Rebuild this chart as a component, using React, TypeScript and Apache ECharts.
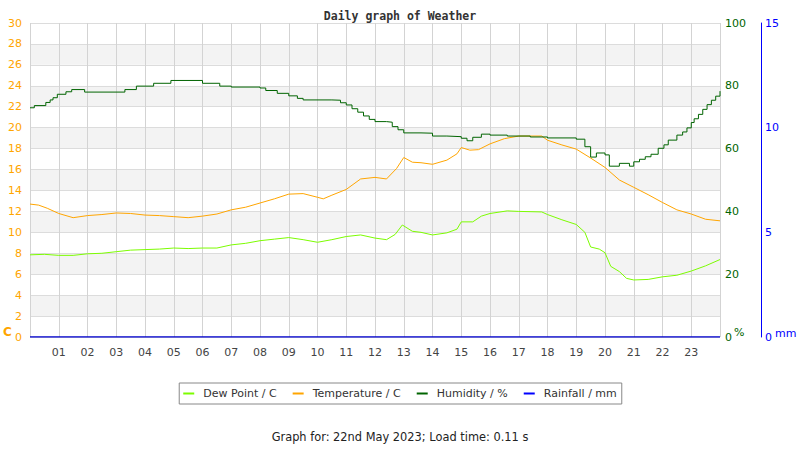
import React, { useEffect, useRef } from "react";
import * as echarts from "echarts";

const hourTicks = ["01","02","03","04","05","06","07","08","09","10","11","12","13","14","15","16","17","18","19","20","21","22","23"];

const dewPoint: [number, number][] = [
  [0,7.85],[0.5,7.9],[1.0,7.8],[1.5,7.8],[2.0,7.95],[2.5,8.0],[3.0,8.15],[3.5,8.3],[4.0,8.35],[4.5,8.4],
  [5.0,8.5],[5.5,8.45],[6.0,8.5],[6.5,8.5],[7.0,8.8],[7.5,8.95],[8.0,9.2],[8.5,9.35],[9.0,9.5],[9.5,9.3],
  [10.0,9.05],[10.5,9.3],[11.0,9.6],[11.5,9.75],[12.0,9.45],[12.4,9.3],[12.7,9.8],[12.95,10.7],[13.3,10.1],
  [13.6,10.0],[14.0,9.75],[14.5,9.95],[14.85,10.3],[15.0,11.0],[15.4,11.0],[15.7,11.55],[16.0,11.8],
  [16.6,12.05],[17.0,12.0],[17.8,11.95],[18.0,11.7],[18.5,11.2],[19.0,10.75],[19.3,10.0],[19.5,8.6],
  [19.8,8.4],[20.0,8.05],[20.2,6.75],[20.5,6.25],[20.75,5.6],[21.0,5.45],[21.5,5.5],[22.0,5.75],
  [22.5,5.9],[23.0,6.3],[23.5,6.8],[24,7.4]
];

const temperature: [number, number][] = [
  [0,12.7],[0.3,12.6],[0.6,12.3],[1.0,11.8],[1.5,11.4],[2.0,11.6],[2.5,11.7],[3.0,11.85],[3.5,11.8],
  [4.0,11.65],[4.5,11.6],[5.0,11.5],[5.5,11.4],[6.0,11.55],[6.5,11.75],[7.0,12.15],[7.5,12.4],[8.0,12.8],
  [8.5,13.2],[9.0,13.65],[9.5,13.7],[10.0,13.35],[10.2,13.2],[10.5,13.55],[11.0,14.1],[11.5,15.1],
  [12.0,15.25],[12.4,15.1],[12.75,16.1],[13.0,17.15],[13.3,16.7],[13.6,16.65],[14.0,16.5],[14.5,16.9],
  [14.85,17.5],[15.0,18.1],[15.3,17.85],[15.6,17.9],[16.0,18.45],[16.5,18.95],[17.0,19.2],[17.8,19.2],
  [18.0,18.8],[18.5,18.35],[19.0,17.95],[19.5,17.1],[20.0,16.2],[20.5,15.0],[21.0,14.3],[21.5,13.6],
  [22.0,12.85],[22.5,12.15],[23.0,11.75],[23.5,11.25],[24,11.1]
];

const humidity: [number, number][] = [
  [0,73.0],[0.15,73.7],[0.55,74.7],[0.7,75.5],[0.8,76.2],[0.95,77.3],[1.25,78.1],[1.45,78.8],[1.9,78.0],
  [3.3,78.8],[3.7,79.9],[4.3,80.8],[4.9,81.7],[6.0,80.8],[6.6,79.9],[7.0,79.6],[8.0,79.3],[8.2,78.5],
  [8.6,77.6],[9.0,76.8],[9.3,76.0],[9.5,75.5],[10.5,75.4],[10.8,74.6],[11.0,73.9],[11.2,72.7],[11.4,71.6],
  [11.6,70.4],[11.8,69.3],[12.0,68.6],[12.4,68.4],[12.6,67.0],[12.8,66.0],[13.0,65.0],[13.6,64.9],
  [14.0,64.0],[14.5,63.8],[15.0,63.3],[15.2,62.5],[15.4,63.6],[15.7,64.6],[16.0,64.3],[16.6,64.0],
  [17.4,63.7],[18.0,63.4],[19.0,63.0],[19.3,60.6],[19.5,57.3],[19.7,58.6],[20.0,58.0],[20.15,54.4],
  [20.5,55.3],[20.85,54.4],[21.0,55.8],[21.2,56.6],[21.4,57.4],[21.6,58.2],[21.85,60.1],[22.05,61.2],
  [22.2,62.7],[22.5,64.3],[22.7,65.3],[22.85,66.6],[23.0,68.3],[23.1,69.5],[23.25,70.9],[23.4,72.5],
  [23.55,74.0],[23.7,75.4],[23.85,76.7],[24,78.3]
];

const rainfall: [number, number][] = [[0,0],[24,0]];

export default function App() {
  const ref = useRef<HTMLDivElement>(null);
  useEffect(() => {
    document.body.style.margin = "0";
    const chart = echarts.init(ref.current!, null, { renderer: "svg" });
    const font = "DejaVu Sans";
    chart.setOption({
      animation: false,
      backgroundColor: "#ffffff",
      title: {
        text: "Daily graph of Weather",
        left: "center",
        top: 5,
        textStyle: { fontFamily: "DejaVu Sans Mono", fontSize: 11.5, fontWeight: "bold", color: "#333" },
      },
      grid: { left: 30, right: 80, top: 23, bottom: 113, containLabel: false },
      legend: {
        left: "center",
        top: 383,
        orient: "horizontal",
        borderColor: "#888",
        borderWidth: 1,
        padding: [5, 5, 5, 4],
        itemGap: 16,
        itemWidth: 11,
        itemHeight: 2,
        icon: "rect",
        textStyle: { fontFamily: font, fontSize: 11, color: "#333", padding: [0, 0, 0, 4] },
        data: ["Dew Point / C", "Temperature / C", "Humidity / %", "Rainfall / mm"],
      },
      xAxis: {
        type: "value",
        min: 0,
        max: 24,
        interval: 1,
        axisLine: { show: false },
        axisTick: { show: false },
        axisLabel: {
          margin: 10,
          color: "#444",
          fontFamily: font,
          fontSize: 11,
          formatter: (v: number) => (v >= 1 && v <= 23 ? hourTicks[v - 1] : ""),
        },
        splitLine: { show: true, lineStyle: { color: "#d3d3d3", width: 1 } },
      },
      yAxis: [
        {
          type: "value",
          min: 0,
          max: 30,
          interval: 2,
          position: "left",
          axisLine: { show: false },
          axisTick: { show: false },
          axisLabel: { color: "#ffa500", fontFamily: font, fontSize: 11, margin: 8 },
          splitLine: { show: true, lineStyle: { color: "#dcdcdc", width: 1 } },
          splitArea: { show: true, areaStyle: { color: ["#ffffff", "#f3f3f3"] } },
        },
        {
          type: "value",
          min: 0,
          max: 100,
          interval: 20,
          position: "right",
          axisLine: { show: false },
          axisTick: { show: false },
          axisLabel: { color: "#006400", fontFamily: font, fontSize: 11, margin: 5 },
          splitLine: { show: false },
        },
        {
          type: "value",
          min: 0,
          max: 15,
          interval: 5,
          position: "right",
          offset: 41,
          axisLine: { show: true, lineStyle: { color: "#0000ff", width: 1 } },
          axisTick: { show: false },
          axisLabel: { color: "#0000ff", fontFamily: font, fontSize: 11, margin: 4 },
          splitLine: { show: false },
        },
      ],
      graphic: [
        { type: "text", left: 3, top: 326, style: { text: "C", fill: "#ffa500", font: "bold 12px DejaVu Sans" } },
        { type: "text", left: 734, top: 327, style: { text: "%", fill: "#006400", font: "11px DejaVu Sans" } },
        { type: "text", left: 775, top: 328, style: { text: "mm", fill: "#0000ff", font: "11px DejaVu Sans" } },
        {
          type: "text",
          left: "center",
          top: 431,
          style: { text: "Graph for: 22nd May 2023; Load time: 0.11 s", fill: "#222", font: "11.4px DejaVu Sans" },
        },
      ],
      series: [
        {
          name: "Dew Point / C",
          type: "line",
          yAxisIndex: 0,
          data: dewPoint,
          showSymbol: false,
          lineStyle: { color: "#7cfc00", width: 1 },
          itemStyle: { color: "#7cfc00" },
        },
        {
          name: "Temperature / C",
          type: "line",
          yAxisIndex: 0,
          data: temperature,
          showSymbol: false,
          lineStyle: { color: "#ffa500", width: 1 },
          itemStyle: { color: "#ffa500" },
        },
        {
          name: "Humidity / %",
          type: "line",
          yAxisIndex: 1,
          data: humidity,
          step: "end",
          showSymbol: false,
          lineStyle: { color: "#006400", width: 1 },
          itemStyle: { color: "#006400" },
        },
        {
          name: "Rainfall / mm",
          type: "line",
          yAxisIndex: 2,
          data: rainfall,
          showSymbol: false,
          lineStyle: { color: "#0000cc", width: 1.5 },
          itemStyle: { color: "#0000ff" },
        },
      ],
    });
    return () => chart.dispose();
  }, []);
  return <div ref={ref} style={{ width: 800, height: 450 }} />;
}
